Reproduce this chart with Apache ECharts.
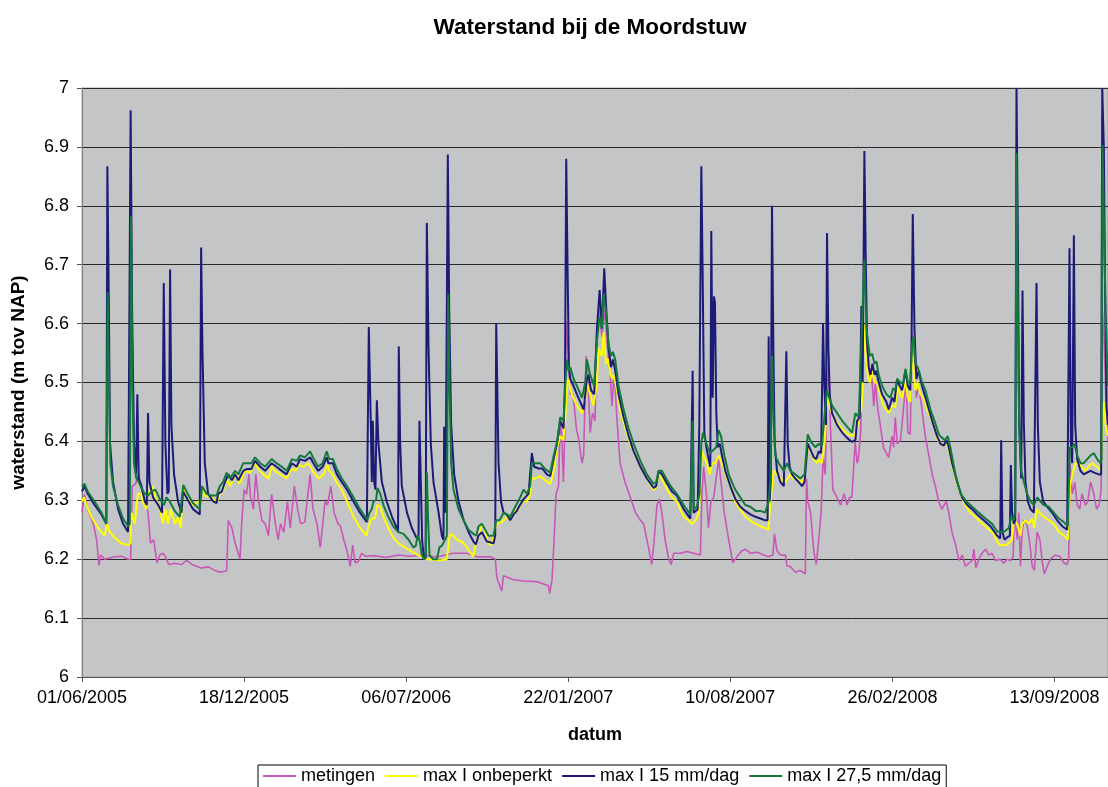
<!DOCTYPE html>
<html>
<head>
<meta charset="utf-8">
<title>Waterstand bij de Moordstuw</title>
<script src="https://cdn.jsdelivr.net/npm/echarts@6.0.0/dist/echarts.min.js"></script>
<style>
  html, body { margin: 0; padding: 0; background: #fff; }
  #chart { width: 1108px; height: 787px; }
</style>
</head>
<body>
<div id="chart"></div>
<script>
// x = dagen sinds 01/06/2005
const xTickDays = [0, 200, 400, 600, 800, 1000, 1200]
const xTickLabels = ['01/06/2005', '18/12/2005', '06/07/2006', '22/01/2007', '10/08/2007', '26/02/2008', '13/09/2008']
const lastDay = 1266

// metingen [dag, waterstand]
const metingen = [
  [0,6.28],[3,6.31],[7,6.285],[14,6.26],[18,6.233],[21,6.19],[23,6.207],[28,6.2],[40,6.204],[49,6.205],[57,6.2],[60,6.2],
  [62,6.324],[66,6.328],[70,6.344],[74,6.315],[78,6.298],[81.5,6.279],[84.5,6.227],[88.5,6.233],[92.5,6.194],[96,6.207],
  [100,6.21],[103,6.204],[107,6.191],[114,6.193],[123,6.191],[129,6.198],[137,6.19],[147,6.185],[156,6.187],[164,6.181],
  [170,6.178],[178.5,6.18],[180.5,6.266],[185,6.253],[189,6.227],[195,6.2],[197,6.26],[200,6.318],[203,6.31],[206,6.344],
  [208,6.305],[211.5,6.285],[214.5,6.344],[218,6.298],[222,6.266],[226,6.26],[230,6.24],[234,6.31],[238,6.266],[242,6.233],
  [245,6.26],[249,6.246],[253.5,6.298],[257,6.253],[262,6.324],[266,6.285],[270,6.26],[275,6.263],[281.5,6.344],[285,6.285],
  [290,6.26],[294,6.22],[300,6.298],[303,6.292],[307,6.324],[311,6.279],[316,6.26],[319,6.256],[323,6.233],[327,6.214],
  [331,6.188],[334,6.224],[337,6.194],[341,6.196],[345,6.21],[350,6.205],[360,6.206],[375,6.203],[390,6.207],[405,6.205],
  [421,6.207],[435,6.204],[442,6.205],[458,6.21],[475,6.21],[487,6.204],[504,6.204],[510,6.2],[512,6.168],[518,6.146],
  [520,6.172],[532.5,6.165],[545,6.163],[561,6.162],[575.5,6.155],[577,6.142],[580,6.165],[582.5,6.233],[585,6.311],
  [588,6.324],[590,6.44],[592,6.409],[594,6.331],[596,6.428],[597.5,6.604],[599,6.565],[602.5,6.48],[606,6.48],[610,6.422],
  [613,6.403],[617,6.363],[619,6.376],[622,6.545],[624,6.52],[627,6.415],[630,6.448],[633,6.435],[635.5,6.591],[638.5,6.624],
  [641.5,6.578],[645,6.624],[648.5,6.56],[652,6.506],[654,6.46],[656,6.506],[658,6.49],[660,6.44],[664,6.363],[670,6.331],
  [676.5,6.305],[683,6.279],[689,6.266],[693,6.26],[699,6.22],[703,6.191],[706,6.233],[709.5,6.292],[712.5,6.302],
  [715.5,6.279],[719.5,6.233],[724,6.2],[727,6.191],[730,6.21],[738,6.21],[746.5,6.213],[755,6.21],[763,6.207],[765,6.311],
  [767,6.357],[770.5,6.311],[773,6.253],[776,6.298],[779.5,6.305],[782.5,6.337],[785.5,6.37],[788.5,6.331],[792.5,6.279],
  [798,6.233],[803,6.194],[808,6.204],[814,6.214],[818.5,6.217],[825,6.21],[833,6.212],[841,6.207],[847,6.204],[852.5,6.207],
  [854.5,6.243],[857.5,6.214],[862,6.207],[868,6.207],[870,6.188],[874,6.188],[880,6.178],[886,6.181],[892.5,6.175],
  [894,6.337],[895.5,6.298],[899,6.279],[903,6.214],[906,6.191],[909,6.233],[912,6.279],[914.5,6.376],[917,6.344],[919,6.46],
  [921.5,6.545],[923.5,6.428],[926.5,6.318],[931.5,6.305],[936,6.292],[940.5,6.311],[944,6.292],[947,6.305],[950,6.305],
  [954,6.399],[956.5,6.363],[958,6.37],[961,6.42],[962.5,6.55],[965,6.598],[968.5,6.545],[972,6.5],[974,6.52],[977,6.46],
  [979,6.5],[982,6.454],[985,6.428],[989,6.389],[995.5,6.373],[999.5,6.409],[1001.5,6.39],[1003.5,6.441],[1006,6.396],
  [1010,6.402],[1014,6.461],[1017,6.506],[1019,6.415],[1022,6.412],[1024,6.585],[1026,6.56],[1029.5,6.474],[1032.5,6.494],
  [1036.5,6.454],[1040.5,6.409],[1045,6.376],[1049,6.344],[1053,6.324],[1057,6.298],[1061,6.285],[1066.5,6.298],
  [1069.5,6.279],[1073.5,6.246],[1078,6.224],[1082,6.198],[1086,6.207],[1090,6.188],[1094,6.193],[1098.5,6.198],
  [1100.5,6.217],[1103,6.185],[1106.5,6.2],[1110.5,6.21],[1115,6.217],[1119,6.207],[1123,6.21],[1127,6.198],[1133,6.2],
  [1137.5,6.193],[1141.5,6.2],[1145.5,6.198],[1149,6.204],[1150.5,6.279],[1154,6.233],[1156,6.279],[1158,6.188],[1160,6.246],
  [1162,6.266],[1166,6.26],[1169.5,6.227],[1172.5,6.188],[1175,6.181],[1178.5,6.246],[1182,6.233],[1185,6.194],[1187.5,6.175],
  [1191,6.188],[1195,6.2],[1201,6.207],[1207,6.204],[1211.5,6.194],[1215.5,6.191],[1217.5,6.2],[1219,6.363],[1222,6.311],
  [1225,6.331],[1228,6.292],[1231,6.285],[1234,6.311],[1238,6.292],[1241,6.298],[1244.5,6.331],[1248.5,6.311],[1252,6.285],
  [1255,6.292],[1257.5,6.318],[1259,6.624],[1261,6.58],[1264,6.45],[1266,6.4]
]

// max I onbeperkt
const onbeperkt = [
  [0,6.298],[2.5,6.305],[5.5,6.292],[11.5,6.272],[20,6.253],[28,6.24],[31,6.26],[34,6.247],[40,6.237],[48.5,6.227],[57,6.224],
  [60,6.227],[61,6.279],[65,6.26],[69,6.311],[73,6.311],[75,6.298],[79.5,6.285],[80.5,6.311],[83.5,6.315],[87.5,6.324],
  [92,6.298],[96,6.285],[100,6.26],[103,6.285],[106,6.26],[109.5,6.285],[112,6.272],[115,6.26],[118.5,6.272],[122,6.253],
  [124.5,6.324],[129,6.305],[137,6.292],[145,6.298],[148,6.324],[151.5,6.308],[160,6.305],[166,6.295],[170,6.311],
  [174.5,6.318],[178.5,6.337],[182.5,6.324],[187,6.337],[191,6.344],[194,6.328],[197,6.337],[199,6.344],[201,6.35],
  [207.5,6.347],[213.5,6.363],[217.5,6.353],[224,6.344],[230,6.337],[234,6.357],[238,6.35],[244.5,6.344],[252.5,6.337],
  [256.5,6.35],[261,6.353],[264,6.35],[267,6.36],[273,6.357],[279.5,6.363],[282,6.357],[286,6.347],[292,6.337],[298,6.344],
  [303,6.36],[305,6.35],[308,6.347],[314,6.331],[320.5,6.318],[327,6.298],[335,6.272],[343,6.253],[351,6.24],[353.5,6.256],
  [357.5,6.269],[361.5,6.269],[364.5,6.292],[368,6.289],[372,6.272],[378,6.253],[384,6.237],[390.5,6.227],[398.5,6.22],
  [407,6.213],[415,6.207],[425.5,6.2],[433.5,6.199],[442,6.198],[450,6.2],[454,6.243],[458,6.24],[462.5,6.233],[468.5,6.23],
  [475,6.22],[479,6.211],[483,6.205],[485.5,6.225],[489.5,6.237],[493.5,6.26],[497.5,6.247],[501.5,6.227],[505.5,6.224],
  [508.5,6.246],[512,6.26],[518,6.263],[524.5,6.272],[528.5,6.266],[534.5,6.282],[539,6.285],[543,6.298],[549,6.298],
  [553,6.311],[555,6.337],[559,6.337],[565.5,6.341],[571.5,6.334],[578,6.328],[582,6.35],[586,6.389],[590,6.409],[594,6.402],
  [596.5,6.441],[598.5,6.5],[600.5,6.506],[602.5,6.487],[606.5,6.474],[610.5,6.461],[617,6.448],[621,6.474],[623,6.5],
  [627,6.48],[631,6.461],[635,6.494],[637.5,6.558],[641.5,6.545],[643.5,6.585],[646.5,6.532],[649,6.54],[652,6.513],
  [654,6.507],[656,6.513],[660,6.487],[664,6.454],[670.5,6.422],[676.5,6.396],[682.5,6.376],[689,6.357],[697,6.337],
  [705,6.318],[708.5,6.321],[711.5,6.344],[715.5,6.337],[722,6.318],[728,6.305],[734,6.298],[742.5,6.272],[748.5,6.266],
  [752.5,6.26],[757,6.266],[761,6.279],[765,6.383],[767,6.376],[771,6.363],[774.5,6.344],[777.5,6.363],[781.5,6.363],
  [785.5,6.376],[789.5,6.363],[796,6.337],[802,6.318],[806,6.298],[812,6.285],[818.5,6.272],[824.5,6.266],[831,6.26],
  [837,6.256],[843,6.253],[847,6.25],[849.5,6.298],[853.5,6.35],[857.5,6.344],[861.5,6.337],[868,6.331],[874,6.344],
  [878,6.337],[884.5,6.334],[888.5,6.331],[890.5,6.337],[894.5,6.389],[899,6.383],[903,6.37],[907,6.363],[909,6.37],
  [913,6.363],[916,6.396],[918.5,6.441],[920,6.48],[923.5,6.454],[927.5,6.441],[933.5,6.428],[940,6.418],[946,6.412],
  [952,6.409],[955.5,6.415],[958.5,6.441],[961.5,6.454],[963,6.48],[964.5,6.598],[966.5,6.558],[969.5,6.513],[972,6.5],
  [975,6.52],[978,6.5],[981,6.5],[985,6.48],[989,6.461],[995.5,6.448],[999.5,6.461],[1003.5,6.458],[1006,6.494],
  [1009,6.481],[1012,6.474],[1016,6.506],[1019,6.474],[1022,6.467],[1024,6.558],[1026,6.558],[1028.5,6.487],[1031,6.5],
  [1034.5,6.48],[1038.5,6.474],[1043,6.454],[1047,6.441],[1051,6.428],[1056,6.402],[1061,6.396],[1065,6.393],[1068,6.396],
  [1071.5,6.373],[1078,6.337],[1084,6.311],[1090,6.292],[1096,6.279],[1102.5,6.272],[1108.5,6.263],[1117,6.253],
  [1125,6.243],[1129,6.23],[1133,6.224],[1140,6.224],[1143.5,6.227],[1147.5,6.233],[1150,6.266],[1154,6.26],[1158,6.24],
  [1160,6.26],[1164,6.266],[1168,6.26],[1172.5,6.269],[1175,6.253],[1178,6.285],[1181,6.279],[1187,6.272],[1193,6.266],
  [1199,6.26],[1205.5,6.246],[1211.5,6.24],[1216.5,6.233],[1219,6.324],[1222,6.344],[1226,6.363],[1230,6.36],[1234,6.357],
  [1238,6.35],[1242,6.357],[1246.5,6.363],[1252.5,6.357],[1257,6.35],[1259,6.428],[1261,6.467],[1263,6.428],[1266,6.409]
]

// max I 15 mm/dag
const max15 = [
  [0,6.315],[3,6.324],[7,6.311],[15.5,6.292],[24,6.276],[30,6.26],[31.3,6.867],[33,6.65],[34.6,6.396],[38.3,6.331],
  [44.5,6.285],[50.7,6.26],[56.8,6.246],[59,6.246],[60,6.962],[61.8,6.624],[64.2,6.396],[66.7,6.344],[68.3,6.48],[70,6.337],
  [73.5,6.324],[77.5,6.298],[80,6.292],[81.5,6.448],[83.2,6.331],[87.7,6.305],[94,6.292],[98.7,6.279],[100.9,6.669],
  [102.9,6.396],[105.4,6.311],[107,6.315],[108.7,6.692],[110.3,6.428],[113.6,6.344],[118.5,6.298],[122.7,6.279],
  [124.7,6.315],[128.8,6.305],[137,6.285],[145.3,6.276],[147,6.729],[148.6,6.558],[151.5,6.363],[155.6,6.311],[162,6.298],
  [166,6.295],[168,6.311],[172.5,6.315],[176.5,6.331],[180.5,6.344],[185,6.334],[189,6.344],[193,6.334],[199,6.35],
  [203,6.353],[209,6.353],[213.5,6.367],[220,6.357],[226,6.35],[234,6.363],[240,6.357],[246.5,6.35],[252.5,6.344],
  [259,6.363],[265,6.357],[269,6.37],[275,6.367],[281.5,6.373],[285.5,6.363],[291.5,6.35],[297,6.357],[302,6.373],
  [304,6.363],[309.5,6.363],[314.5,6.344],[320.5,6.331],[327,6.318],[335,6.298],[343,6.279],[351.5,6.263],[353,6.26],
  [353.9,6.594],[356.4,6.428],[357.6,6.331],[358.8,6.435],[360.5,6.331],[362.1,6.318],[363.8,6.47],[365.8,6.396],
  [370,6.331],[376,6.298],[382.5,6.272],[388.5,6.253],[390,6.246],[390.9,6.561],[392.6,6.396],[394.6,6.324],[401,6.279],
  [407,6.253],[412.5,6.237],[415.2,6.233],[416.4,6.435],[418.1,6.331],[419.7,6.233],[421.4,6.207],[424,6.201],[425.5,6.771],
  [427.6,6.558],[430.4,6.396],[433.7,6.331],[440,6.279],[444,6.24],[446,6.233],[446.9,6.425],[448.5,6.279],[450.2,6.279],
  [451.4,6.887],[453.1,6.624],[455.5,6.428],[459.2,6.344],[464.6,6.298],[471,6.266],[477,6.246],[483,6.23],[486,6.225],
  [489.3,6.24],[493.4,6.246],[499.6,6.23],[507.8,6.227],[509.9,6.24],[511.1,6.6],[514,6.363],[517,6.298],[520.2,6.279],
  [524,6.276],[528.4,6.266],[532.5,6.276],[536.6,6.282],[540.5,6.292],[544.8,6.302],[551,6.311],[555.1,6.38],[558,6.357],
  [563.5,6.354],[568,6.354],[573.6,6.344],[577.8,6.341],[582,6.37],[586,6.396],[590,6.435],[594.2,6.422],[595.9,6.494],
  [597.5,6.88],[599.2,6.689],[600.8,6.526],[602.5,6.506],[606.6,6.494],[610.7,6.48],[614.8,6.467],[619,6.454],[623,6.506],
  [625,6.513],[628,6.487],[632,6.48],[635.4,6.591],[638.7,6.657],[641.5,6.591],[644.4,6.694],[646.9,6.624],[649.8,6.558],
  [652.7,6.526],[655.1,6.539],[658,6.52],[662,6.48],[668.3,6.441],[674.5,6.409],[680.7,6.383],[689,6.357],[697,6.337],
  [705.3,6.321],[708.5,6.324],[711.5,6.35],[715.5,6.344],[722,6.328],[728,6.315],[734,6.308],[742.4,6.285],[750.6,6.269],
  [752.5,6.272],[753.5,6.52],[754.7,6.279],[757,6.276],[759.7,6.285],[761.7,6.428],[764.2,6.867],[765.8,6.689],[767.9,6.415],
  [770.4,6.39],[773.2,6.37],[775.3,6.357],[776.5,6.757],[778.2,6.474],[779.8,6.646],[781,6.636],[782.7,6.448],[784.4,6.39],
  [787,6.396],[789.7,6.376],[793.8,6.35],[800,6.324],[806.2,6.302],[812.3,6.289],[818.5,6.282],[824.7,6.276],[831,6.272],
  [837,6.269],[843,6.266],[846,6.266],[847.3,6.578],[848.5,6.298],[849.8,6.331],[851.4,6.8],[853.1,6.558],[854.7,6.396],
  [857.6,6.35],[861.7,6.331],[866,6.324],[868,6.324],[869.1,6.553],[870.8,6.396],[873.2,6.357],[876.1,6.344],[880,6.337],
  [884.4,6.331],[888.5,6.324],[891.5,6.331],[895.5,6.396],[898.8,6.386],[902.9,6.373],[906,6.37],[909,6.383],[912,6.38],
  [914.4,6.6],[916,6.494],[918,6.428],[919.3,6.754],[921,6.558],[922.6,6.48],[925.5,6.448],[931.7,6.428],[938,6.415],
  [944,6.406],[950.2,6.399],[954.3,6.402],[956.4,6.435],[959.7,6.441],[961.7,6.63],[963.3,6.5],[965.4,6.893],[967.1,6.708],
  [968.7,6.571],[970.8,6.526],[973,6.513],[975.3,6.532],[978,6.513],[980.3,6.52],[983,6.5],[987.2,6.48],[992.6,6.467],
  [995.5,6.454],[999.6,6.474],[1002.5,6.467],[1005.8,6.506],[1009,6.494],[1012,6.487],[1016,6.52],[1019,6.494],[1022,6.487],
  [1023.5,6.558],[1025.1,6.786],[1027.2,6.591],[1029.6,6.506],[1032.5,6.52],[1035.4,6.5],[1039.5,6.48],[1045,6.454],
  [1049,6.435],[1055,6.409],[1059.3,6.396],[1063.5,6.393],[1066.7,6.402],[1069.6,6.39],[1073.7,6.363],[1079.8,6.331],
  [1086,6.305],[1092.2,6.292],[1098.4,6.285],[1104.5,6.276],[1112.8,6.266],[1121,6.256],[1129.2,6.24],[1133,6.235],
  [1134.2,6.402],[1135.8,6.246],[1138.3,6.233],[1141.5,6.237],[1144.9,6.24],[1146.1,6.36],[1147.7,6.279],[1149.8,6.26],
  [1151.5,6.266],[1153.1,7.0],[1154.7,6.754],[1156.4,6.428],[1158.9,6.337],[1160.5,6.656],[1162.2,6.428],[1164.2,6.331],
  [1167.1,6.298],[1170.4,6.285],[1174.5,6.279],[1176.5,6.282],[1177.8,6.669],[1179.4,6.428],[1181.9,6.331],[1186,6.298],
  [1191,6.289],[1197.1,6.279],[1203.3,6.266],[1209.5,6.256],[1215.6,6.25],[1217.5,6.253],[1218.5,6.728],[1220.2,6.396],
  [1221.8,6.363],[1223.9,6.75],[1225.5,6.428],[1228,6.37],[1232,6.35],[1236,6.344],[1240,6.347],[1244.5,6.35],[1249,6.347],
  [1254.7,6.344],[1257.5,6.344],[1258.9,7.0],[1260.9,6.897],[1262.6,6.624],[1264.2,6.46],[1266,6.428]
]

// max I 27,5 mm/dag
const max275 = [
  [0,6.324],[3,6.328],[7,6.315],[15.5,6.298],[24,6.279],[30,6.26],[31.7,6.653],[33.4,6.494],[35,6.363],[38.3,6.324],
  [44.5,6.292],[50.7,6.269],[56.8,6.256],[59,6.26],[60.5,6.783],[62.2,6.494],[64.2,6.363],[67,6.337],[70,6.331],[73.3,6.321],
  [77.4,6.311],[81.5,6.308],[85.6,6.315],[90.6,6.318],[96,6.302],[101.3,6.292],[104,6.305],[108.3,6.298],[114.4,6.282],
  [120.6,6.272],[125,6.326],[128.8,6.315],[137,6.295],[145.3,6.285],[148.2,6.324],[153.5,6.311],[160,6.308],[166,6.308],
  [170,6.324],[174,6.331],[178.5,6.347],[182.5,6.337],[189,6.35],[193,6.344],[199,6.363],[203,6.363],[209,6.363],
  [213.5,6.373],[220,6.363],[226,6.357],[234,6.37],[240,6.363],[246.5,6.357],[252.5,6.35],[259,6.37],[265,6.367],
  [269,6.376],[275,6.373],[281.5,6.383],[286,6.37],[291.5,6.357],[297,6.363],[302,6.383],[305,6.37],[309.5,6.37],
  [314.5,6.353],[320.5,6.337],[327,6.324],[335,6.305],[343,6.285],[352,6.266],[354.7,6.279],[357.5,6.285],[359.7,6.298],
  [363,6.301],[364.6,6.321],[368,6.311],[372,6.292],[378,6.272],[384,6.256],[390.5,6.246],[396.7,6.243],[403,6.233],
  [409,6.22],[412,6.223],[414,6.24],[416.5,6.233],[419.3,6.207],[422,6.2],[424,6.204],[425.5,6.347],[427,6.27],[428.8,6.207],
  [433,6.2],[438,6.2],[441,6.22],[444,6.223],[448,6.233],[450.2,6.24],[451.8,6.65],[453.5,6.494],[455.5,6.363],[458.4,6.318],
  [464.6,6.285],[470.8,6.266],[477,6.25],[483,6.243],[486.5,6.24],[489.3,6.256],[493.4,6.26],[497.5,6.25],[501.6,6.24],
  [507.8,6.24],[511.1,6.266],[515,6.266],[520.2,6.279],[524.3,6.276],[528.4,6.272],[534.6,6.289],[540.7,6.305],[544.8,6.318],
  [549,6.311],[553.1,6.324],[555.1,6.363],[559,6.363],[565.4,6.363],[571.5,6.353],[577.8,6.347],[582,6.376],[586.8,6.402],
  [590,6.441],[594.2,6.435],[596.3,6.494],[598.3,6.539],[600.4,6.52],[602.5,6.526],[606.6,6.506],[610.7,6.494],[617,6.474],
  [621,6.5],[623,6.539],[627,6.513],[632,6.494],[635.4,6.571],[638.7,6.611],[641.5,6.591],[643.6,6.65],[646.5,6.62],
  [649.8,6.565],[652.7,6.545],[655.1,6.552],[658,6.539],[662,6.494],[668.3,6.454],[674.5,6.422],[680.7,6.396],[689,6.367],
  [697,6.344],[705.3,6.328],[708.5,6.331],[711.5,6.35],[715.5,6.35],[722,6.334],[728,6.321],[734,6.311],[742.4,6.292],
  [750.6,6.276],[752.5,6.279],[753.5,6.435],[754.7,6.285],[758.8,6.289],[762,6.311],[764.2,6.396],[766.2,6.415],[769.1,6.402],
  [772,6.39],[775.3,6.38],[779.4,6.386],[782.5,6.39],[785.6,6.419],[788.5,6.409],[792.6,6.376],[798,6.344],[804,6.324],
  [806.2,6.318],[812.3,6.305],[818.5,6.292],[824.7,6.289],[831,6.282],[837,6.282],[843,6.279],[847.3,6.298],[849.4,6.331],
  [851.4,6.545],[853.5,6.428],[855.5,6.376],[859.7,6.363],[866,6.35],[870,6.363],[874,6.35],[880.2,6.344],[886.4,6.337],
  [891.5,6.344],[895.5,6.412],[899.6,6.399],[905,6.39],[909,6.396],[913,6.393],[916,6.441],[919.3,6.487],[922,6.474],
  [925.5,6.461],[931.7,6.448],[938,6.435],[944,6.425],[950.2,6.415],[954.3,6.448],[958.4,6.441],[962.5,6.598],[965.4,6.708],
  [968,6.591],[972,6.545],[975,6.549],[977.8,6.532],[980.3,6.536],[983,6.513],[987.2,6.494],[992.6,6.48],[997.5,6.474],
  [1000.8,6.49],[1003.5,6.487],[1005.8,6.506],[1009.9,6.5],[1013.2,6.497],[1016.1,6.523],[1019,6.5],[1022.2,6.5],
  [1024.3,6.565],[1026.3,6.578],[1028.4,6.532],[1031.3,6.526],[1033.7,6.526],[1036.6,6.5],[1040.7,6.487],[1046.9,6.454],
  [1051.9,6.435],[1057.2,6.412],[1061.3,6.406],[1065,6.402],[1068.3,6.409],[1071.6,6.389],[1077.8,6.344],[1084,6.311],
  [1091.4,6.298],[1098.4,6.289],[1106.6,6.279],[1114.8,6.269],[1123,6.26],[1129.2,6.247],[1137.5,6.246],[1143.6,6.253],
  [1146.5,6.272],[1149.8,6.266],[1151.5,6.279],[1153.1,6.89],[1154.7,6.624],[1156.4,6.428],[1158.9,6.35],[1162.2,6.331],
  [1166.3,6.311],[1170.4,6.298],[1174.5,6.292],[1178.6,6.305],[1182.7,6.298],[1186.8,6.292],[1193,6.289],[1199.2,6.279],
  [1205.4,6.269],[1211.5,6.263],[1216.5,6.256],[1219,6.39],[1221.8,6.39],[1224.7,6.396],[1228,6.376],[1232.1,6.363],
  [1236,6.363],[1240.4,6.37],[1244.5,6.376],[1248.6,6.38],[1252.5,6.37],[1256.8,6.363],[1258,6.37],[1259.3,6.903],
  [1260.9,6.78],[1263,6.624],[1265.9,6.494]
]

const seriesNames = ['metingen', 'max I onbeperkt', 'max I 15 mm/dag', 'max I 27,5 mm/dag']
const seriesColors = ['#C957B8', '#FFFF00', '#1C1C78', '#137A3C']
const seriesData = [metingen, onbeperkt, max15, max275]

const font = '"Liberation Sans", Arial, sans-serif'

const chart = echarts.init(document.getElementById('chart'))

const option = {
  animation: false,
  backgroundColor: '#fff',
  title: {
    text: 'Waterstand bij de Moordstuw',
    left: 585,
    top: 11,
    textAlign: 'center',
    textStyle: { fontFamily: font, fontSize: 22.5, fontWeight: 'bold', color: '#000' }
  },
  grid: {
    left: 82, right: 0, top: 88, bottom: 110,
    show: true,
    backgroundColor: '#C4C5C7',
    borderColor: '#A0A0A0',
    borderWidth: 1
  },
  legend: {
    data: seriesNames,
    left: 258,
    top: 765,
    icon: 'rect',
    itemWidth: 33,
    itemHeight: 2,
    itemGap: 10,
    padding: [2, 5, 8, 5],
    borderColor: '#000',
    borderWidth: 1,
    textStyle: { fontFamily: font, fontSize: 18, color: '#000' }
  },
  xAxis: {
    type: 'value',
    min: 0,
    max: lastDay,
    interval: 200,
    name: 'datum',
    nameLocation: 'middle',
    nameGap: 49,
    nameTextStyle: { fontFamily: font, fontSize: 18, fontWeight: 'bold', color: '#000' },
    axisLine: { lineStyle: { color: '#555', width: 1 } },
    axisTick: { show: true, length: 5, customValues: xTickDays, lineStyle: { color: '#555' } },
    axisLabel: {
      customValues: xTickDays,
      margin: 12,
      fontFamily: font,
      fontSize: 18,
      color: '#000',
      formatter: (v) => xTickLabels[xTickDays.indexOf(v)] || ''
    },
    splitLine: { show: false }
  },
  yAxis: {
    type: 'value',
    min: 6,
    max: 7,
    interval: 0.1,
    name: 'waterstand (m tov NAP)',
    nameLocation: 'middle',
    nameGap: 54,
    nameTextStyle: { fontFamily: font, fontSize: 19, fontWeight: 'bold', color: '#000' },
    axisLine: { show: true, lineStyle: { color: '#808080', width: 1 } },
    axisTick: { show: true, length: 5, lineStyle: { color: '#555' } },
    axisLabel: { margin: 13, fontFamily: font, fontSize: 18, color: '#000' },
    splitLine: { show: true, lineStyle: { color: '#2a2a2a', width: 1 } }
  },
  series: seriesData.map((d, i) => ({
    name: seriesNames[i],
    type: 'line',
    data: d,
    symbol: 'none',
    showSymbol: false,
    color: seriesColors[i],
    lineStyle: { width: i === 0 ? 1.6 : 2, color: seriesColors[i] },
    z: 2 + i
  }))
}

chart.setOption(option)
</script>
</body>
</html>
